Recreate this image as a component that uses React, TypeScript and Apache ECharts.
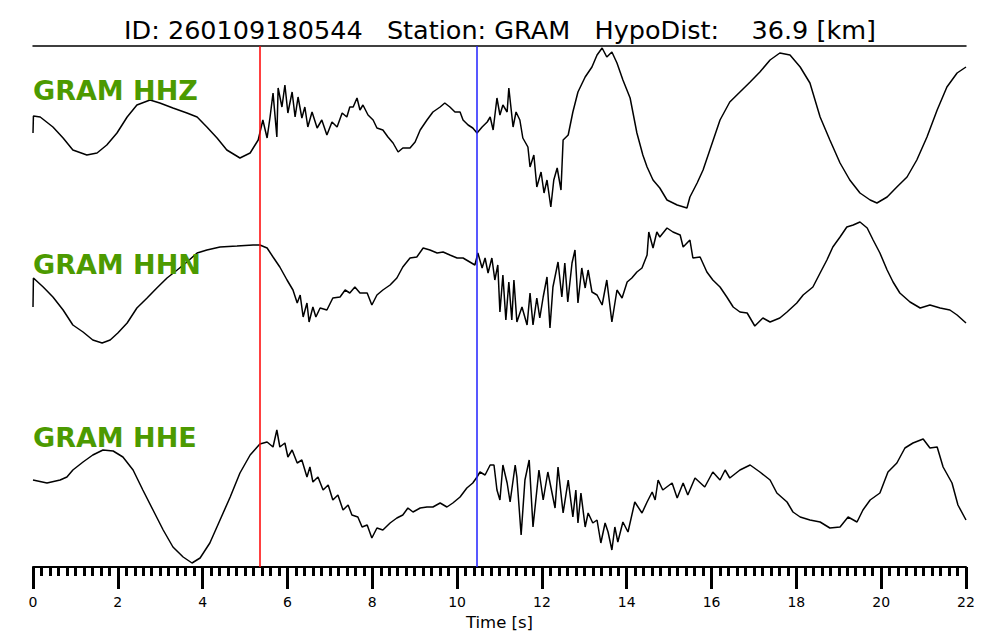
import React, { useEffect, useRef } from "react";
import * as echarts from "echarts";

// time [s], relative amplitude (arbitrary units, positive up)
const hhz: [number, number][] = [
  [0, -3], [0.01, 14], [0.17, 13], [0.47, 3], [0.71, -8], [0.94, -20], [1.27, -25], [1.51, -23], [1.74, -15],
  [1.98, -3], [2.22, 13], [2.45, 25], [2.76, 30], [2.99, 27], [3.3, 22], [3.63, 17], [3.87, 13], [4.1, 3],
  [4.34, -8], [4.57, -20], [4.88, -28], [5.12, -23], [5.31, -10], [5.42, 10], [5.52, -8], [5.59, 13], [5.66, 37],
  [5.75, -7], [5.78, 42], [5.87, 23], [5.94, 45], [6.01, 17], [6.11, 38], [6.18, 13], [6.25, 33], [6.34, 12],
  [6.41, 23], [6.48, 3], [6.58, 18], [6.7, 2], [6.81, 10], [6.93, -5], [7.05, 8], [7.17, 3], [7.29, 17],
  [7.4, 13], [7.47, 23], [7.55, 23], [7.64, 32], [7.71, 20], [7.78, 25], [7.9, 15], [8.02, 10], [8.11, 2],
  [8.25, 0], [8.37, -7], [8.49, -13], [8.61, -22], [8.72, -18], [8.89, -18], [9.01, -12], [9.13, 0], [9.29, 10],
  [9.43, 18], [9.6, 23], [9.71, 27], [9.83, 23], [9.95, 18], [10.07, 18], [10.14, 10], [10.26, 5], [10.37, 2],
  [10.47, -3], [10.59, 3], [10.71, 8], [10.78, 13], [10.85, 0], [10.94, 32], [11.01, 15], [11.08, 25], [11.18, 18],
  [11.22, 42], [11.32, 3], [11.39, 18], [11.48, 10], [11.55, -8], [11.67, -17], [11.72, -37], [11.81, -25],
  [11.88, -57], [11.98, -42], [12.05, -63], [12.12, -50], [12.21, -77], [12.28, -50], [12.36, -38], [12.45, -60],
  [12.5, -10], [12.62, -5], [12.73, 18], [12.85, 38], [13.02, 53], [13.18, 63], [13.3, 75], [13.42, 82],
  [13.53, 73], [13.65, 78], [13.77, 67], [13.91, 50], [14.08, 32], [14.24, -3], [14.38, -25], [14.48, -37],
  [14.62, -50], [14.78, -58], [14.95, -70], [15.19, -75], [15.42, -78], [15.49, -67], [15.66, -53], [15.8, -40],
  [15.96, -20], [16.2, 10], [16.43, 28], [16.67, 38], [16.91, 48], [17.14, 58], [17.38, 70], [17.61, 77],
  [17.85, 75], [18.09, 63], [18.32, 47], [18.56, 13], [18.79, -10], [19.03, -33], [19.26, -50], [19.5, -63],
  [19.74, -70], [19.9, -73], [20.14, -67], [20.37, -57], [20.61, -47], [20.84, -30], [21.08, -7], [21.32, 20],
  [21.55, 43], [21.79, 57], [22.0, 63],
];

const hhn: [number, number][] = [
  [0, -22], [0.01, 7], [0.24, -2], [0.47, -12], [0.71, -25], [0.94, -40], [1.18, -47], [1.41, -55], [1.63, -58],
  [1.82, -55], [2.0, -48], [2.22, -38], [2.45, -23], [2.69, -13], [2.92, -3], [3.16, 7], [3.4, 15], [3.63, 23],
  [3.87, 32], [4.1, 35], [4.41, 38], [4.81, 39], [5.19, 40], [5.35, 40], [5.52, 37], [5.66, 28], [5.82, 18],
  [5.99, 5], [6.13, -5], [6.23, -18], [6.3, -10], [6.37, -32], [6.46, -18], [6.51, -37], [6.6, -22], [6.67, -32],
  [6.77, -23], [6.93, -25], [7.07, -13], [7.24, -12], [7.36, -5], [7.47, -8], [7.59, -2], [7.71, -8], [7.88, -8],
  [7.99, -20], [8.11, -10], [8.25, -5], [8.42, 0], [8.58, 7], [8.72, 18], [8.89, 27], [9.05, 28], [9.2, 37],
  [9.36, 35], [9.53, 32], [9.67, 33], [9.83, 30], [10.0, 27], [10.14, 27], [10.3, 23], [10.42, 20], [10.49, 32],
  [10.59, 17], [10.66, 27], [10.73, 12], [10.82, 27], [10.89, 5], [10.96, 20], [11.01, -27], [11.08, 10],
  [11.15, -35], [11.22, 3], [11.29, -35], [11.34, 5], [11.41, -37], [11.53, -22], [11.65, -40], [11.72, -8],
  [11.79, -40], [11.88, -13], [11.95, -33], [12.03, -12], [12.12, 8], [12.19, -43], [12.26, -2], [12.38, 23],
  [12.47, -12], [12.54, 22], [12.61, -17], [12.71, 22], [12.78, 35], [12.85, -18], [12.94, 17], [13.02, -3],
  [13.09, 15], [13.18, -7], [13.3, -10], [13.42, -20], [13.53, 5], [13.65, -37], [13.77, -5], [13.89, -13],
  [14.01, 3], [14.12, 7], [14.24, 13], [14.36, 17], [14.48, 30], [14.52, 53], [14.62, 37], [14.71, 53],
  [14.78, 48], [14.95, 57], [15.09, 53], [15.26, 50], [15.33, 38], [15.49, 45], [15.56, 27], [15.73, 28],
  [15.89, 13], [16.03, 5], [16.2, -2], [16.36, -12], [16.51, -22], [16.67, -27], [16.84, -28], [17.02, -41],
  [17.21, -33], [17.38, -37], [17.61, -33], [17.78, -27], [18.01, -18], [18.16, -10], [18.39, -2], [18.56, 12],
  [18.72, 25], [18.86, 38], [19.03, 48], [19.19, 58], [19.34, 60], [19.5, 63], [19.67, 57], [19.81, 45],
  [19.97, 32], [20.14, 15], [20.28, 3], [20.44, -8], [20.68, -17], [20.92, -23], [21.15, -20], [21.39, -23],
  [21.62, -25], [21.79, -30], [22.0, -38],
];

const hhe: [number, number][] = [
  [0, 15], [0.33, 12], [0.64, 15], [0.8, 18], [0.94, 25], [1.18, 33], [1.41, 40], [1.65, 45], [1.89, 44],
  [2.12, 38], [2.36, 25], [2.59, 5], [2.83, -15], [3.07, -35], [3.3, -52], [3.54, -62], [3.75, -68], [3.94, -63],
  [4.17, -48], [4.41, -25], [4.65, -2], [4.88, 22], [5.12, 40], [5.35, 51], [5.52, 53], [5.66, 48], [5.75, 65],
  [5.82, 48], [5.94, 52], [6.01, 38], [6.11, 45], [6.23, 32], [6.34, 35], [6.46, 18], [6.53, 28], [6.6, 13],
  [6.72, 18], [6.84, 5], [6.96, 10], [7.07, -5], [7.19, 0], [7.31, -15], [7.43, -10], [7.52, -20], [7.66, -22],
  [7.76, -32], [7.88, -30], [7.99, -43], [8.11, -33], [8.25, -35], [8.42, -28], [8.58, -23], [8.72, -20],
  [8.84, -13], [8.96, -17], [9.13, -13], [9.29, -12], [9.43, -12], [9.6, -8], [9.76, -12], [9.9, -8], [10.07, -2],
  [10.23, 7], [10.37, 12], [10.47, 18], [10.54, 23], [10.66, 20], [10.78, 30], [10.87, 30], [10.94, 5],
  [11.01, -5], [11.08, 30], [11.18, 12], [11.25, -7], [11.37, 30], [11.41, 18], [11.51, -40], [11.6, 15],
  [11.7, 35], [11.79, -32], [11.93, 25], [12.03, -5], [12.14, 23], [12.31, -13], [12.38, 28], [12.5, -18],
  [12.62, 15], [12.73, -22], [12.8, 5], [12.85, -28], [12.92, 2], [13.02, -32], [13.09, -18], [13.2, -28],
  [13.3, -25], [13.39, -48], [13.49, -28], [13.56, -37], [13.65, -55], [13.72, -32], [13.79, -47], [13.91, -27],
  [14.03, -37], [14.19, -7], [14.36, -18], [14.48, -7], [14.6, 3], [14.67, -5], [14.74, 15], [14.85, 5],
  [15.07, 12], [15.19, -3], [15.33, 12], [15.44, 0], [15.61, 17], [15.84, 8], [16.03, 23], [16.2, 15],
  [16.32, 25], [16.43, 17], [16.67, 25], [16.91, 30], [17.14, 23], [17.38, 15], [17.54, 2], [17.78, -7],
  [17.92, -17], [18.09, -22], [18.32, -25], [18.56, -27], [18.79, -33], [19.03, -32], [19.22, -22], [19.43, -27],
  [19.57, -15], [19.74, -5], [19.97, 2], [20.16, 23], [20.37, 32], [20.56, 47], [20.75, 52], [20.99, 56],
  [21.15, 47], [21.32, 48], [21.46, 28], [21.67, 12], [21.81, -10], [22.0, -25],
];

const traceNames = ["GRAM HHZ", "GRAM HHN", "GRAM HHE"];
const traceOffsets = [437, 282, 72];
const pickP = 5.35;
const pickS = 10.47;
const xTicks = [0, 2, 4, 6, 8, 10, 12, 14, 16, 18, 20, 22];
const titleText = "ID: 260109180544   Station: GRAM   HypoDist:    36.9 [km]";

export default function App() {
  const ref = useRef<HTMLDivElement>(null);
  useEffect(() => {
    if (!ref.current) return;
    const chart = echarts.init(ref.current, undefined, { renderer: "svg" });
    const traces = [hhz, hhn, hhe];
    const labelY = [91, 265, 438];
    const font = "DejaVu Sans";
    chart.setOption({
      animation: false,
      backgroundColor: "#ffffff",
      title: {
        text: titleText,
        left: "center",
        top: 12,
        textStyle: { fontFamily: font, fontSize: 25.5, fontWeight: "normal", color: "#000" },
      },
      grid: { left: 33, right: 34, top: 46, bottom: 73, containLabel: false },
      xAxis: [
        {
          type: "value",
          min: xTicks[0],
          max: xTicks[xTicks.length - 1],
          interval: 2,
          position: "bottom",
          name: "Time [s]",
          nameLocation: "middle",
          nameGap: 40,
          nameTextStyle: { fontFamily: font, fontSize: 16.5, color: "#000" },
          axisLine: { show: true, lineStyle: { color: "#000", width: 2 } },
          axisTick: { show: true, length: 22, inside: false, lineStyle: { color: "#000", width: 3 } },
          minorTick: { show: true, splitNumber: 10, length: 9, lineStyle: { color: "#000", width: 3 } },
          axisLabel: { margin: 28, fontFamily: font, fontSize: 14, color: "#000" },
          splitLine: { show: false },
        },
        {
          type: "value",
          min: 0,
          max: 22,
          position: "top",
          axisLine: { show: true, lineStyle: { color: "#000", width: 1.5 } },
          axisTick: { show: false },
          axisLabel: { show: false },
          splitLine: { show: false },
        },
      ],
      yAxis: { type: "value", min: 0, max: 521, show: false },
      series: [
        {
          type: "line",
          data: [],
          z: 1,
          markLine: {
            symbol: "none",
            silent: true,
            animation: false,
            label: { show: false },
            lineStyle: { type: "solid", width: 1.5 },
            data: [
              { xAxis: pickP, lineStyle: { color: "#ff0000", type: "solid", width: 1.5 } },
              { xAxis: pickS, lineStyle: { color: "#2020ff", type: "solid", width: 1.5 } },
            ],
          },
        },
        ...traces.map((tr, i) => ({
          type: "line",
          name: traceNames[i],
          data: tr.map(([t, a]) => [t, a + traceOffsets[i]]),
          showSymbol: false,
          symbol: "none",
          z: 3,
          lineStyle: { color: "#000", width: 1.5 },
        })),
      ],
      graphic: traceNames.map((n, i) => ({
        type: "text",
        left: 33,
        top: labelY[i] - 14,
        z: 10,
        style: {
          text: n,
          fill: "#4c9a00",
          font: `bold 27px '${font}'`,
        },
      })),
    });
    return () => chart.dispose();
  }, []);
  return (
    <div
      ref={ref}
      style={{ position: "fixed", left: 0, top: 0, width: 1000, height: 640, background: "#fff" }}
    />
  );
}
